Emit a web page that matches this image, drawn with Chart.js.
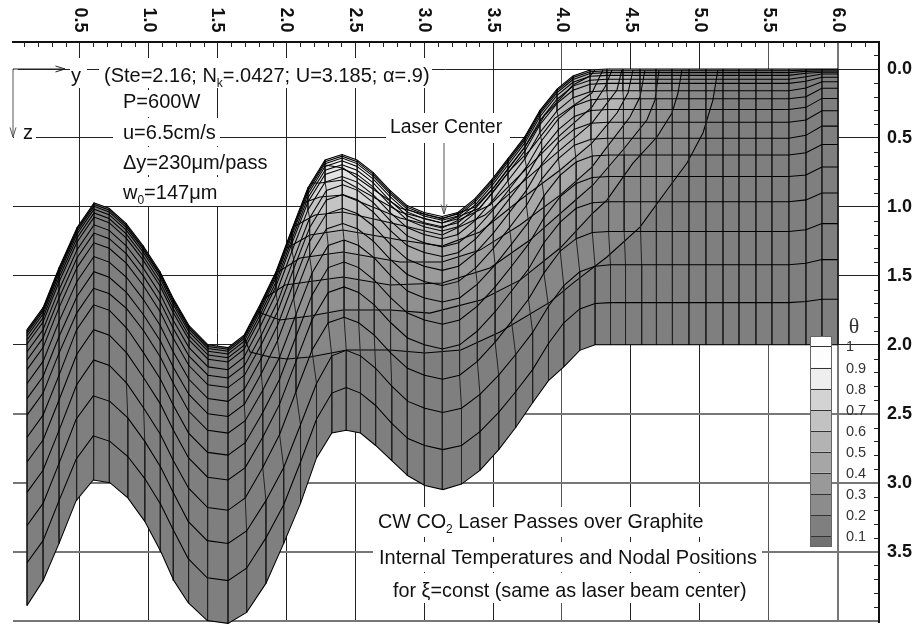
<!DOCTYPE html>
<html>
<head>
<meta charset="utf-8">
<style>
  html, body { margin: 0; padding: 0; background: #fff; }
  #wrap { width: 916px; height: 625px; }
</style>
<script src="https://cdn.jsdelivr.net/npm/chart.js@4"></script>
</head>
<body>
<div id="wrap"><canvas id="mesh" width="916" height="625"></canvas></div>
<script>
// tick labels
const yTicks = [0.5, 1.0, 1.5, 2.0, 2.5, 3.0, 3.5, 4.0, 4.5, 5.0, 5.5, 6.0];
const yLabels = ['0.5', '1.0', '1.5', '2.0', '2.5', '3.0', '3.5', '4.0', '4.5', '5.0', '5.5', '6.0'];
const zTicks = [0.0, 0.5, 1.0, 1.5, 2.0, 2.5, 3.0, 3.5, 4.0];
const zLabels = ['0.0', '0.5', '1.0', '1.5', '2.0', '2.5', '3.0', '3.5', ''];
const thetaLabels = ['1', '0.9', '0.8', '0.7', '0.6', '0.5', '0.4', '0.3', '0.2', '0.1'];

// node y position of each mesh column, four bands of rows because columns lean a little
const xTop = [.119,.235,.351,.482,.605,.714,.837,.960,1.084,1.178,1.294,1.432,1.577,1.693,1.809,1.925,2.041,2.157,2.281,2.404,2.513,2.629,2.752,2.876,2.999,3.130,3.245,3.369,3.492,3.608,3.731,3.840,3.964,4.080,4.203,4.326,4.442,4.566,4.682,4.798,4.921,5.044,5.168,5.284,5.407,5.523,5.646,5.770,5.886,6.002];
const xUpper = [.119,.235,.351,.481,.604,.715,.840,.962,1.085,1.179,1.293,1.431,1.577,1.697,1.818,1.936,2.053,2.169,2.291,2.410,2.518,2.633,2.754,2.877,3.000,3.131,3.250,3.376,3.502,3.619,3.742,3.852,3.974,4.090,4.210,4.331,4.446,4.568,4.683,4.799,4.921,5.044,5.168,5.284,5.407,5.523,5.646,5.770,5.886,6.002];
const xLower = [.119,.235,.351,.479,.602,.717,.843,.966,1.087,1.181,1.291,1.429,1.577,1.702,1.829,1.951,2.070,2.186,2.304,2.419,2.525,2.638,2.758,2.879,3.002,3.133,3.257,3.386,3.515,3.634,3.757,3.869,3.987,4.103,4.220,4.338,4.451,4.572,4.685,4.801,4.921,5.044,5.168,5.284,5.407,5.523,5.646,5.770,5.886,6.002];
const xBase = [.119,.235,.351,.475,.599,.720,.850,.973,1.090,1.184,1.288,1.426,1.577,1.712,1.852,1.981,2.103,2.219,2.330,2.435,2.538,2.648,2.765,2.882,3.005,3.136,3.271,3.405,3.541,3.664,3.787,3.902,4.013,4.129,4.240,4.352,4.461,4.578,4.688,4.804,4.921,5.044,5.168,5.284,5.407,5.523,5.646,5.770,5.886,6.002];

// node z position along each mesh row, surface first
const row00 = [1.89,1.73,1.44,1.15,.97,1.01,1.12,1.28,1.47,1.66,1.86,2.00,2.02,1.93,1.71,1.47,1.16,.86,.66,.62,.66,.75,.88,.99,1.04,1.07,1.04,.94,.80,.65,.49,.30,.145,.05,.007,0,0,0,0,0,0,0,0,0,0,0,0,0,0,0];
const row01 = [1.902,1.742,1.452,1.162,.982,1.022,1.132,1.292,1.482,1.672,1.872,2.012,2.032,1.942,1.722,1.482,1.172,.872,.672,.632,.672,.762,.892,1.002,1.052,1.082,1.052,.952,.812,.662,.502,.312,.157,.062,.019,.012,.012,.012,.012,.012,.012,.012,.012,.012,.012,.012,.012,.007,.005,.005];
const row02 = [1.916,1.756,1.466,1.176,.996,1.036,1.146,1.306,1.496,1.686,1.886,2.026,2.046,1.956,1.736,1.496,1.186,.886,.686,.646,.686,.776,.906,1.016,1.066,1.096,1.066,.966,.826,.676,.516,.326,.171,.076,.033,.026,.026,.026,.026,.026,.026,.026,.026,.026,.026,.026,.026,.017,.015,.015];
const row03 = [1.936,1.776,1.486,1.196,1.016,1.056,1.166,1.326,1.516,1.706,1.906,2.046,2.066,1.976,1.756,1.516,1.206,.906,.706,.666,.706,.796,.926,1.036,1.086,1.116,1.086,.986,.846,.696,.536,.346,.191,.096,.053,.046,.046,.046,.046,.046,.046,.046,.046,.046,.046,.046,.046,.031,.024,.024];
const row04 = [1.964,1.804,1.514,1.224,1.044,1.084,1.194,1.354,1.544,1.734,1.934,2.074,2.094,2.004,1.784,1.544,1.234,.934,.734,.694,.734,.824,.954,1.064,1.114,1.144,1.114,1.014,.874,.724,.564,.374,.219,.124,.081,.074,.074,.074,.074,.074,.074,.074,.074,.074,.074,.074,.074,.056,.036,.036];
const row05 = [1.994,1.834,1.544,1.254,1.074,1.114,1.224,1.384,1.574,1.764,1.964,2.104,2.124,2.034,1.814,1.574,1.264,.964,.764,.724,.764,.854,.984,1.094,1.144,1.174,1.144,1.044,.904,.754,.594,.404,.249,.154,.111,.104,.104,.104,.104,.104,.104,.104,.104,.104,.104,.104,.104,.089,.06,.06];
const row06 = [2.05,1.89,1.60,1.31,1.13,1.17,1.28,1.44,1.63,1.82,2.02,2.16,2.18,2.09,1.87,1.63,1.32,1.02,.82,.78,.82,.91,1.04,1.15,1.20,1.23,1.20,1.10,.96,.81,.65,.46,.303,.208,.165,.158,.158,.158,.158,.158,.158,.158,.158,.158,.158,.158,.158,.138,.092,.092];
const row07 = [2.11,1.95,1.66,1.37,1.19,1.23,1.34,1.50,1.69,1.88,2.08,2.22,2.24,2.15,1.93,1.69,1.38,1.08,.88,.84,.88,.97,1.10,1.21,1.26,1.29,1.26,1.16,1.02,.87,.71,.52,.361,.266,.223,.216,.216,.216,.216,.216,.216,.216,.216,.216,.216,.216,.216,.201,.14,.14];
const row08 = [2.18,2.02,1.73,1.44,1.26,1.30,1.41,1.57,1.76,1.95,2.15,2.29,2.31,2.22,2.00,1.76,1.45,1.15,.95,.91,.95,1.04,1.17,1.28,1.33,1.36,1.33,1.23,1.09,.94,.78,.59,.44,.344,.30,.294,.294,.294,.294,.294,.294,.294,.294,.294,.294,.294,.294,.278,.213,.213];
const row09 = [2.28,2.12,1.83,1.54,1.36,1.40,1.51,1.67,1.86,2.05,2.25,2.39,2.41,2.32,2.10,1.86,1.55,1.25,1.05,1.01,1.05,1.14,1.27,1.38,1.43,1.46,1.43,1.33,1.19,1.04,.88,.69,.53,.436,.393,.386,.386,.386,.386,.386,.386,.386,.386,.386,.386,.386,.386,.37,.302,.302];
const row10 = [2.39,2.23,1.94,1.65,1.47,1.51,1.62,1.78,1.97,2.16,2.36,2.50,2.52,2.43,2.21,1.97,1.66,1.36,1.16,1.12,1.16,1.25,1.38,1.49,1.54,1.57,1.54,1.44,1.30,1.15,.99,.80,.65,.552,.509,.502,.502,.502,.502,.502,.502,.502,.502,.502,.502,.502,.502,.481,.414,.414];
const row11 = [2.51,2.35,2.06,1.77,1.59,1.63,1.74,1.90,2.09,2.28,2.48,2.62,2.64,2.55,2.33,2.09,1.78,1.48,1.28,1.24,1.28,1.37,1.50,1.61,1.66,1.69,1.66,1.56,1.42,1.27,1.11,.92,.77,.674,.631,.624,.624,.624,.624,.624,.624,.624,.624,.624,.624,.624,.624,.607,.547,.547];
const row12 = [2.67,2.51,2.22,1.89,1.71,1.75,1.88,2.06,2.25,2.44,2.64,2.78,2.80,2.71,2.49,2.25,1.94,1.64,1.44,1.40,1.44,1.53,1.66,1.77,1.82,1.85,1.82,1.72,1.58,1.43,1.27,1.08,.925,.83,.787,.78,.78,.78,.78,.78,.78,.78,.78,.78,.78,.78,.78,.768,.71,.71];
const row13 = [2.85,2.69,2.40,2.07,1.89,1.93,2.06,2.24,2.43,2.62,2.82,2.96,2.98,2.89,2.67,2.43,2.12,1.82,1.62,1.58,1.62,1.71,1.84,1.95,2.00,2.03,2.00,1.90,1.76,1.61,1.45,1.26,1.11,1.01,.97,.962,.962,.962,.962,.962,.962,.962,.962,.962,.962,.962,.962,.949,.899,.899];
const row14 = [3.07,2.91,2.62,2.29,2.11,2.15,2.28,2.46,2.65,2.84,3.04,3.18,3.20,3.11,2.89,2.65,2.34,2.04,1.84,1.80,1.84,1.93,2.06,2.17,2.22,2.25,2.22,2.12,1.98,1.83,1.67,1.48,1.32,1.23,1.185,1.178,1.178,1.178,1.178,1.178,1.178,1.178,1.178,1.178,1.178,1.178,1.178,1.166,1.121,1.121];
const row15 = [3.31,3.15,2.86,2.54,2.37,2.41,2.53,2.70,2.89,3.08,3.28,3.42,3.44,3.35,3.13,2.89,2.58,2.28,2.08,2.04,2.08,2.17,2.30,2.41,2.46,2.49,2.46,2.36,2.22,2.07,1.91,1.72,1.57,1.47,1.43,1.42,1.42,1.42,1.42,1.42,1.42,1.42,1.42,1.42,1.42,1.42,1.42,1.408,1.382,1.382];
const row16 = [3.58,3.42,3.13,2.83,2.66,2.70,2.81,2.97,3.16,3.35,3.55,3.69,3.71,3.62,3.40,3.16,2.85,2.54,2.35,2.31,2.35,2.44,2.57,2.68,2.73,2.76,2.73,2.63,2.49,2.34,2.18,1.99,1.84,1.74,1.70,1.694,1.694,1.694,1.694,1.694,1.694,1.694,1.694,1.694,1.694,1.694,1.694,1.686,1.67,1.67];
const row17 = [3.89,3.71,3.44,3.13,2.98,3.00,3.11,3.28,3.50,3.71,3.87,4.00,4.02,3.94,3.73,3.44,3.15,2.82,2.64,2.62,2.64,2.73,2.84,2.95,3.02,3.05,3.01,2.91,2.76,2.60,2.42,2.26,2.16,2.04,2.00,2,2,2,2,2,2,2,2,2,2,2,2,2,2,2];

// theta contours, outermost first
const isoAy = [1.693,1.737,1.882,2.005,2.172,2.440,2.752,3.006,3.267,3.550,3.913,4.080,4.326,4.566,4.762,4.907,5.023,5.095,5.131];
const isoAz = [1.943,2.052,2.088,2.103,2.088,2.038,2.038,2.059,2.038,1.907,1.69,1.552,1.363,1.146,.877,.682,.464,.225,.007];
const isoBy = [1.795,1.954,2.172,2.411,2.752,3.042,3.412,3.695,3.987,4.225,4.326,4.515,4.689,4.798,4.842,4.870];
const isoBz = [1.762,1.82,1.791,1.748,1.748,1.77,1.675,1.531,1.298,1.044,.95,.682,.493,.319,.174,.007];
const isoCy = [1.824,1.991,2.411,2.752,3.130,3.478,3.768,4.058,4.225,4.442,4.616,4.675,4.704];
const isoCz = [1.675,1.566,1.508,1.566,1.552,1.443,1.24,.986,.841,.587,.37,.225,.007];
const isoDy = [1.94,2.1,2.411,2.825,3.130,3.405,3.695,3.987,4.217,4.326,4.493,4.566,4.602];
const isoDz = [1.472,1.371,1.327,1.4,1.4,1.313,1.131,.914,.711,.566,.348,.203,.007];
const isoEy = [2.005,2.172,2.411,2.825,3.130,3.405,3.695,3.987,4.217,4.399,4.479,4.515];
const isoEz = [1.298,1.204,1.167,1.24,1.284,1.182,.95,.732,.537,.319,.174,.007];
const isoFy = [2.063,2.208,2.411,2.825,3.130,3.441,3.731,3.987,4.217,4.399,4.435];
const isoFz = [1.138,1.059,1.037,1.131,1.204,1.059,.805,.587,.392,.152,.007];
const isoGy = [2.121,2.244,2.411,2.825,3.130,3.478,3.768,3.987,4.217,4.312,4.363];
const isoGz = [.972,.928,.914,1.08,1.153,.986,.696,.479,.276,.131,.007];
const isoHy = [2.186,2.244,2.411,2.825,3.130,3.405,3.623,3.768,3.949,4.217,4.297];
const isoHz = [.827,.827,.805,1.037,1.117,1.008,.733,.588,.356,.174,.007];
const isoIy = [2.281,2.411,2.825,3.130,3.369,3.514,3.731,3.876,4.080,4.203,4.239];
const isoIz = [.696,.718,1.008,1.088,1.001,.849,.566,.334,.116,.051,.007];

const rows = [row00,row01,row02,row03,row04,row05,row06,row07,row08,row09,row10,row11,row12,row13,row14,row15,row16,row17];
// which y array each row uses
const rowX = [xTop,xTop,xTop,xTop,xTop,xTop,xTop,xUpper,xUpper,xUpper,xUpper,xLower,xLower,xLower,xLower,xBase,xBase,xBase];
const contours = [[isoAy,isoAz],[isoBy,isoBz],[isoCy,isoCz],[isoDy,isoDz],[isoEy,isoEz],[isoFy,isoFz],[isoGy,isoGz],[isoHy,isoHz],[isoIy,isoIz]];
const contourGreys = ['#878787','#909090','#9b9b9b','#a8a8a8','#b5b5b5','#c4c4c4','#d4d4d4','#e2e2e2','#eeeeee'];
// the light bands stop here, further right the surface stays darker
const contourFillEnd = [19, 16, 13, 13, 12, 8, 6, 5, 5];
const legendGreys = ['#ffffff','#fdfdfd','#eeeeee','#d3d3d3','#c2c2c2','#b3b3b3','#a6a6a6','#999999','#8c8c8c','#7f7f7f','#727272'];

const FONT = '"Liberation Sans", Arial, sans-serif';
const SIZE = 20;
const datasets = [];

rows.forEach(function(r, i) {
  datasets.push({
    data: r.map(function(z, c) { return {x: rowX[i][c], y: z}; }),
    showLine: true, pointRadius: 0, borderColor: '#000', borderWidth: 1.05, clip: false
  });
});
xTop.forEach(function(_, c) {
  datasets.push({
    data: rows.map(function(r, i) { return {x: rowX[i][c], y: r[c]}; }),
    showLine: true, pointRadius: 0, borderColor: '#222', borderWidth: 1, clip: false
  });
});
contours.forEach(function(k) {
  datasets.push({
    data: k[0].map(function(v, j) { return {x: v, y: k[1][j]}; }),
    showLine: true, pointRadius: 0, borderColor: '#000', borderWidth: 1.05, clip: false
  });
});

// grey surface under the mesh lines, lighter above each contour
const shading = {
  id: 'shading',
  beforeDatasetsDraw(chart) {
    const c = chart.ctx, sx = chart.scales.x, sz = chart.scales.y;
    c.save();
    c.beginPath();
    row00.forEach(function(z, i) { c.lineTo(sx.getPixelForValue(xTop[i]), sz.getPixelForValue(z)); });
    for (let i = row17.length - 1; i >= 0; i--) c.lineTo(sx.getPixelForValue(xBase[i]), sz.getPixelForValue(row17[i]));
    c.closePath();
    c.fillStyle = '#7f7f7f';
    c.fill();
    c.clip();
    c.filter = 'blur(2px)';
    contours.forEach(function(k, n) {
      const end = contourFillEnd[n];
      c.beginPath();
      c.moveTo(sx.getPixelForValue(k[0][0]), sz.getPixelForValue(-0.2));
      k[0].slice(0, end).forEach(function(v, j) { c.lineTo(sx.getPixelForValue(v), sz.getPixelForValue(k[1][j])); });
      c.lineTo(sx.getPixelForValue(k[0][end - 1]), sz.getPixelForValue(-0.2));
      c.closePath();
      c.fillStyle = contourGreys[n];
      c.fill();
    });
    c.restore();
  }
};

// text with sub-scripts, runs are [text, size, drop]
function runs(c, x, y, parts) {
  c.textAlign = 'left';
  c.textBaseline = 'alphabetic';
  c.fillStyle = '#111';
  parts.forEach(function(p) {
    c.font = (p[1] || SIZE) + 'px ' + FONT;
    c.fillText(p[0], x, y + (p[2] || 0));
    x += c.measureText(p[0]).width;
  });
}
function box(c, x, y, w, h) {
  c.fillStyle = '#fff';
  c.fillRect(x, y, w, h);
}
function arrow(c, x1, y1, x2, y2, color) {
  const a = Math.atan2(y2 - y1, x2 - x1);
  c.strokeStyle = color;
  c.lineWidth = 1;
  c.beginPath();
  c.moveTo(x1, y1);
  c.lineTo(x2, y2);
  c.moveTo(x2 - 10 * Math.cos(a - .3), y2 - 10 * Math.sin(a - .3));
  c.lineTo(x2, y2);
  c.lineTo(x2 - 10 * Math.cos(a + .3), y2 - 10 * Math.sin(a + .3));
  c.stroke();
}

const notes = {
  id: 'notes',
  afterDatasetsDraw(chart) {
    const c = chart.ctx;
    c.save();
    box(c, 70, 58, 17, 30);
    box(c, 99, 58, 333, 30);
    box(c, 119, 90, 86, 27);
    box(c, 18, 118, 18, 28);
    box(c, 113, 118, 107, 28);
    box(c, 119, 147, 150, 28);
    box(c, 119, 177, 100, 29);
    box(c, 386, 113, 124, 30);
    box(c, 374, 507, 332, 30);
    box(c, 373, 542, 389, 30);
    box(c, 389, 573, 362, 30);
    box(c, 14, 62, 4, 82);

    arrow(c, 13, 69, 65, 69, '#222');
    arrow(c, 13, 69, 13, 137, '#555');
    runs(c, 71, 82, [['y']]);
    runs(c, 23, 139, [['z']]);
    runs(c, 104, 82, [['(Ste=2.16; N'], ['k', 12, 5], ['=.0427; U=3.185; α=.9)']]);
    runs(c, 123, 108, [['P=600W']]);
    runs(c, 123, 139, [['u=6.5cm/s']]);
    runs(c, 123, 169, [['Δy=230μm/pass']]);
    runs(c, 123, 199, [['w'], ['0', 12, 5], ['=147μm']]);
    runs(c, 390, 133, [['Laser Center', 19.4]]);
    arrow(c, 444, 143, 444, 214, '#555');
    runs(c, 378, 528, [['CW CO', 19.8], ['2', 12, 5], [' Laser Passes over Graphite', 19.8]]);
    runs(c, 379, 564, [['Internal Temperatures and Nodal Positions']]);
    runs(c, 393, 597, [['for ξ=const (same as laser beam center)', 19.8]]);

    // theta colour bar
    const edges = [336, 346, 367.7, 388.7, 409.7, 430.7, 451.7, 472.7, 494, 515, 536, 546.7];
    legendGreys.forEach(function(g, i) {
      c.fillStyle = g;
      c.fillRect(811, edges[i], 21, edges[i + 1] - edges[i]);
    });
    c.strokeStyle = '#333';
    c.lineWidth = 1;
    edges.slice(1, -1).forEach(function(y) {
      c.beginPath();
      c.moveTo(811, Math.round(y) + .5);
      c.lineTo(832, Math.round(y) + .5);
      c.stroke();
    });
    c.strokeStyle = '#666';
    c.strokeRect(810.5, 336.5, 21, 210);
    c.font = '14.5px ' + FONT;
    c.fillStyle = '#333';
    c.textAlign = 'center';
    c.textBaseline = 'middle';
    thetaLabels.forEach(function(t, i) {
      c.fillText(t, i === 0 ? 850 : 856, edges[i + 1] + 1);
    });
    c.font = '22px "Liberation Serif", serif';
    c.fillText('θ', 854, 327);
    c.restore();
  }
};

// minor ticks on the two drawn axes, and the y labels which read downward
const minorY = [.1,.2,.3,.4,.6,.7,.8,.9,1.1,1.2,1.3,1.4,1.6,1.7,1.8,1.9,2.1,2.2,2.3,2.4,2.6,2.7,2.8,2.9,3.1,3.2,3.3,3.4,3.6,3.7,3.8,3.9,4.1,4.2,4.3,4.4,4.6,4.7,4.8,4.9,5.1,5.2,5.3,5.4,5.6,5.7,5.8,5.9,6.1,6.2];
const minorZ = [-.1,.1,.2,.3,.4,.6,.7,.8,.9,1.1,1.2,1.3,1.4,1.6,1.7,1.8,1.9,2.1,2.2,2.3,2.4,2.6,2.7,2.8,2.9,3.1,3.2,3.3,3.4,3.6,3.7,3.8,3.9];
const axisExtras = {
  id: 'axisExtras',
  afterDraw(chart) {
    const c = chart.ctx, a = chart.chartArea;
    c.save();
    c.strokeStyle = '#222';
    c.lineWidth = 1;
    c.beginPath();
    minorY.forEach(function(v) {
      const x = Math.round(chart.scales.x.getPixelForValue(v)) + .5;
      c.moveTo(x, a.top);
      c.lineTo(x, a.top + 5);
    });
    minorZ.forEach(function(v) {
      const y = Math.round(chart.scales.y.getPixelForValue(v)) + .5;
      c.moveTo(a.right, y);
      c.lineTo(a.right - 5, y);
    });
    c.stroke();
    c.fillStyle = '#111';
    c.font = 'bold 18px ' + FONT;
    c.textAlign = 'center';
    c.textBaseline = 'middle';
    yTicks.forEach(function(v, i) {
      c.save();
      c.translate(chart.scales.x.getPixelForValue(v), 20);
      c.rotate(Math.PI / 2);
      c.fillText(yLabels[i], 0, 0);
      c.restore();
    });
    c.restore();
  }
};

new Chart(document.getElementById('mesh'), {
  type: 'scatter',
  data: { datasets: datasets },
  plugins: [shading, notes, axisExtras],
  options: {
    responsive: false,
    animation: false,
    layout: { padding: { left: 13, right: 0, top: 0, bottom: 3 } },
    plugins: { legend: { display: false }, tooltip: { enabled: false } },
    scales: {
      x: {
        type: 'linear',
        position: 'top',
        min: 0.017,
        max: 6.3,
        afterBuildTicks(s) { s.ticks = yTicks.map(function(v) { return {value: v}; }); },
        afterFit(s) { s.height = 42; s.paddingLeft = 0; s.paddingRight = 0; },
        border: { display: true, color: '#111', width: 2 },
        grid: {
          drawTicks: false,
          color(ctx) {
            const v = ctx.tick && ctx.tick.value;
            return v === 6 ? '#777' : (v === 4 || v === 5.5 ? '#555' : '#222');
          },
          lineWidth(ctx) { return ctx.tick && ctx.tick.value === 6 ? 2 : 1; }
        },
        ticks: { display: false }
      },
      y: {
        type: 'linear',
        position: 'right',
        reverse: true,
        min: -0.196,
        max: 4.01,
        afterBuildTicks(s) { s.ticks = zTicks.map(function(v) { return {value: v}; }); },
        afterFit(s) { s.width = 37; s.paddingTop = 0; s.paddingBottom = 0; },
        border: { display: true, color: '#111', width: 2 },
        grid: {
          drawTicks: false,
          color(ctx) { return ctx.tick && ctx.tick.value >= 2.5 ? '#777' : '#222'; },
          lineWidth(ctx) { return ctx.tick && ctx.tick.value >= 2.5 ? 2 : 1; }
        },
        ticks: {
          autoSkip: false, padding: 8,
          color: '#111', font: { family: FONT, size: 18, weight: 'bold' },
          callback(v) { return zLabels[zTicks.indexOf(v)]; }
        }
      }
    }
  }
});
</script>
</body>
</html>
